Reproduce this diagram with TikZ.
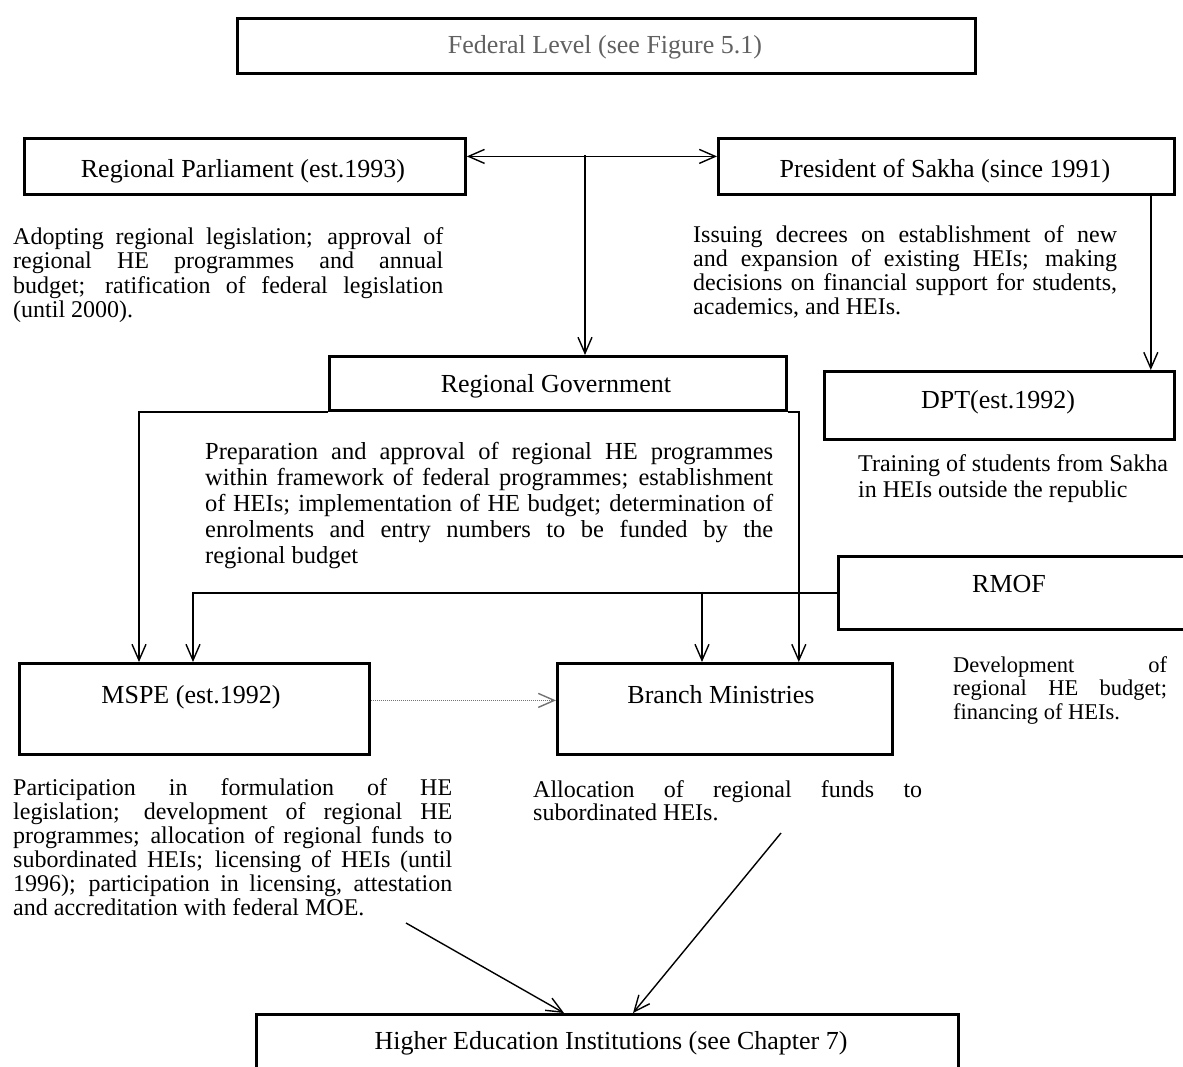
\documentclass[tikz,border=0pt]{standalone}
\usepackage{fontspec}
\setmainfont{Liberation Serif}
\usetikzlibrary{arrows.meta}
\tolerance=10000
\hbadness=10000
\hyphenpenalty=10000
\begin{document}
\begin{tikzpicture}[x=1pt,y=-1pt,
  box/.style={draw, line width=2.8pt, inner sep=0, anchor=north west},
  lbl/.style={anchor=base, inner sep=0, font=\fontsize{26}{28}\selectfont},
  desc/.style={anchor=base west, inner sep=0, align=justify},
  tipv/.tip={Straight Barb[length=16pt,width=14pt]},
  link/.style={line width=1.4pt, -tipv},
  dlink/.style={line width=1.4pt, tipv-tipv},
  softlink/.style={line width=1.8pt, black!55, dash pattern=on 1.2pt off 0.8pt, -{Straight Barb[length=16pt,width=14pt,line width=1.4pt]}}
]
\fill[white] (0,0) rectangle (1183,1066);
\useasboundingbox (0,0) rectangle (1183,1066);

% boxes
\node[box, minimum width=738pt, minimum height=55pt] (fed) at (236,17) {};
\node[box, minimum width=441pt, minimum height=56pt] (parl) at (23,137) {};
\node[box, minimum width=456pt, minimum height=56pt] (pres) at (717,137) {};
\node[box, minimum width=457pt, minimum height=54pt] (rg) at (328,355) {};
\node[box, minimum width=350pt, minimum height=68pt] (dpt) at (823,370) {};
\node[box, minimum width=370pt, minimum height=73pt] (rmof) at (837,555) {};
\node[box, minimum width=350pt, minimum height=91pt] (mspe) at (18,662) {};
\node[box, minimum width=335pt, minimum height=91pt] (branch) at (556,662) {};
\node[box, minimum width=702pt, minimum height=80pt] (hei) at (255,1013) {};

% box titles
\node[lbl, text=black!62] (fedt) at (605,53) {Federal Level (see Figure 5.1)};
\node[lbl] (parlt) at (243,177) {Regional Parliament (est.1993)};
\node[lbl] (prest) at (945,177) {President of Sakha (since 1991)};
\node[lbl] (rgt) at (556,392) {Regional Government};
\node[lbl] (dptt) at (998,408) {DPT(est.1992)};
\node[lbl] (rmoft) at (1009,592) {RMOF};
\node[lbl] (mspet) at (191,703) {MSPE (est.1992)};
\node[lbl] (brt) at (721,703) {Branch Ministries};
\node[lbl] (heit) at (611,1049) {Higher Education Institutions (see Chapter 7)};

% descriptions
\node[desc, text width=430pt, font=\fontsize{24}{24.5}\selectfont] (parld) at (13,244)
  {Adopting regional legislation; approval of\linebreak regional HE programmes and annual\linebreak budget; ratification of federal legislation\linebreak (until 2000).};
\node[desc, text width=424pt, font=\fontsize{24}{24.3}\selectfont] (presd) at (693,242)
  {Issuing decrees on establishment of new\linebreak and expansion of existing HEIs; making\linebreak decisions on financial support for students,\linebreak academics, and HEIs.};
\node[desc, text width=568pt, font=\fontsize{24.5}{26}\selectfont] (rgd) at (205,459)
  {Preparation and approval of regional HE programmes\linebreak within framework of federal programmes; establishment\linebreak of HEIs; implementation of HE budget; determination of\linebreak enrolments and entry numbers to be funded by the\linebreak regional budget};
\node[anchor=base west, inner sep=0, align=left, font=\fontsize{24}{26}\selectfont] (dptd) at (858,497)
  {Training of students from Sakha\\in HEIs outside the republic};
\node[desc, text width=214pt, font=\fontsize{22.5}{23.5}\selectfont] (rmofd) at (953,672)
  {Development of\linebreak regional HE budget;\linebreak financing of HEIs.};
\node[desc, text width=439pt, font=\fontsize{24}{24}\selectfont] (msped) at (13,795)
  {Participation in formulation of HE\linebreak legislation; development of regional HE\linebreak programmes; allocation of regional funds to\linebreak subordinated HEIs; licensing of HEIs (until\linebreak 1996); participation in licensing, attestation\linebreak and accreditation with federal MOE.};
\node[desc, text width=389pt, font=\fontsize{24}{23}\selectfont] (brd) at (533,797)
  {Allocation of regional funds to\linebreak subordinated HEIs.};

% connectors
\draw[dlink] ([yshift=10pt]parl.east) -- ([yshift=10pt]pres.west);
\coordinate (fork) at (585,155);
\draw[link] (fork) -- (fork |- rg.north);
\draw[link] ([xshift=-25pt]pres.south east) -- ([xshift=-25pt]dpt.north east);
\draw[link] (rg.south west) -| ([xshift=121pt]mspe.north west);
\draw[link] (rg.south east) -| ([xshift=-95pt]branch.north east);
\draw[link] (rmof.west) -| ([xshift=175pt]mspe.north west);
\coordinate (rmj) at (702,591.5);
\draw[link] (rmj) -- (rmj |- branch.north);
\draw[softlink] ([yshift=8.5pt]mspe.east) -- ([yshift=8.5pt]branch.west);
\coordinate (hs1) at (406,923);
\coordinate (hs2) at (781,833);
\draw[link] (hs1) -- ([xshift=309pt]hei.north west);
\draw[link] (hs2) -- ([xshift=378pt]hei.north west);
\end{tikzpicture}
\end{document}
